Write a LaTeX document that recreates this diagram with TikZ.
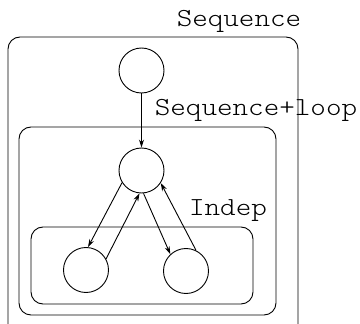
\documentclass[tikz,border=0pt]{standalone}
\usetikzlibrary{arrows.meta}
\newcommand\wide[1]{\scalebox{1.14}[1]{#1}}
\tikzset{>={Stealth[length=8pt,width=5pt]},every node/.style={font=\fontsize{26}{30}\ttfamily\fontseries{l}\selectfont},state/.style={draw,circle,minimum size=45pt,inner sep=0pt},flow/.style={->},region/.style={rounded corners=12pt},lbl/.style={anchor=base,inner sep=0pt}}

\begin{document}
\begin{tikzpicture}[x=1pt,y=-1pt,line width=.9pt]
\clip (0,0) rectangle (360,324);
% nested blocks
\draw[region] (8,37) rectangle (298,345);
\draw[region] (19,127) rectangle (276,315);
\draw[region] (31,227) rectangle (253,304);
\node[lbl] (seqlbl) at (239,27){\wide{Sequence}};
\node[lbl] (looplbl) at (256,115){\wide{Sequence+loop}};
\node[lbl] (indeplbl) at (228,215){\wide{Indep}};
% states
\node[state] (start) at (141.5,70.5){};
\node[state] (head) at (141.5,170.5){};
\node[state] (lft) at (86,270){};\node[state] (rgt) at (186,271){};
\draw[flow] (start) -- (head);
\draw[flow] (head.212) -- (lft.85);\draw[flow] (lft.29) -- (head.265);
\draw[flow] (head.275) -- (rgt.133);\draw[flow] (rgt.64) -- (head.327);
\end{tikzpicture}
\end{document}
